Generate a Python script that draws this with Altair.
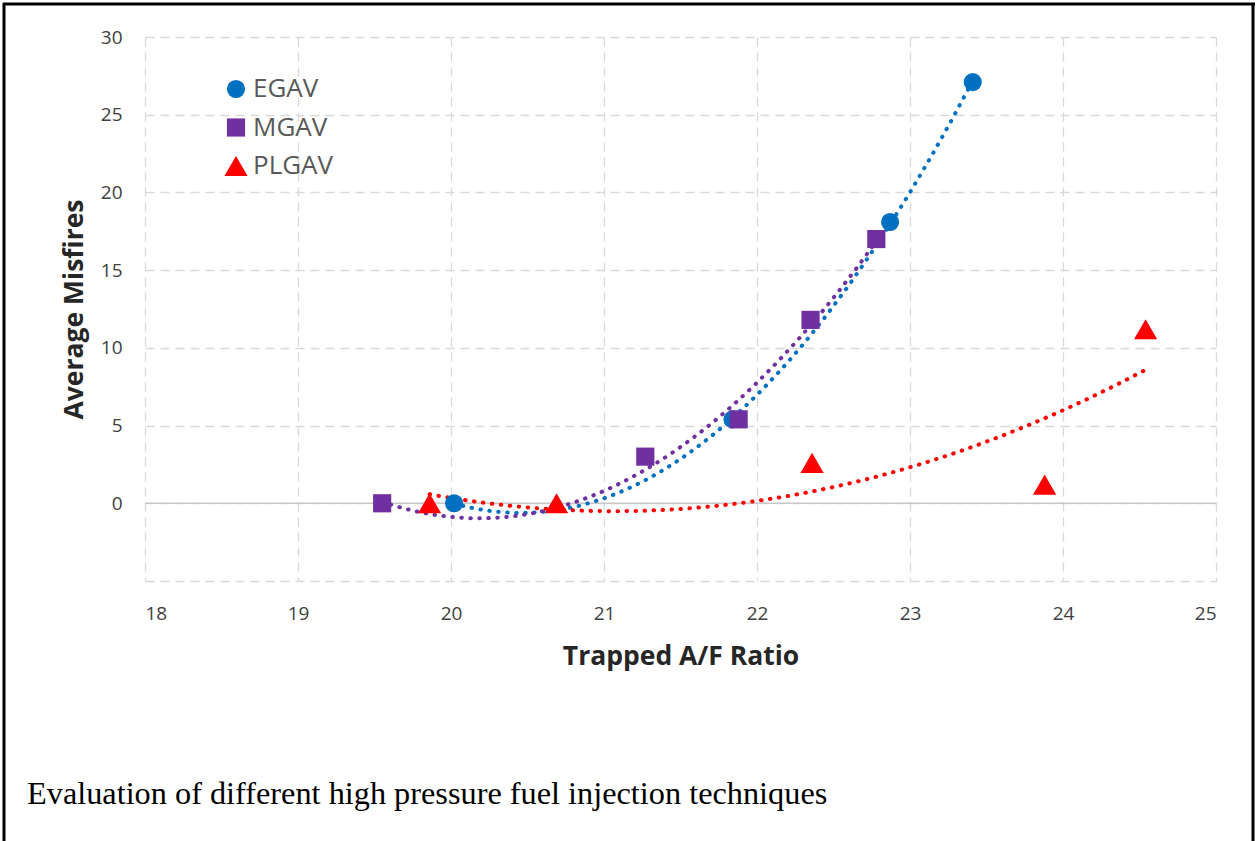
import altair as alt
import pandas as pd

# ---- data ----
egav_x = [20.02, 21.84, 22.87, 23.41]
egav_y = [0.0, 5.4, 18.1, 27.1]
mgav_x = [19.55, 21.27, 21.88, 22.35, 22.78]
mgav_y = [0.0, 3.0, 5.4, 11.8, 17.0]
plgav_x = [19.86, 20.69, 22.36, 23.88, 24.54]
plgav_y = [0.0, 0.0, 2.6, 1.2, 11.2]

series_names = ["EGAV", "MGAV", "PLGAV"]
series_colors = ["#0070C0", "#7030A0", "#FF0000"]
series_shapes = ["circle", "square", "triangle-up"]

y_ticks = [-5, 0, 5, 10, 15, 20, 25, 30]
x_ticks = [18, 19, 20, 21, 22, 23, 24, 25]
caption = ["Evaluation of different high pressure fuel injection techniques"]

rows = []
for name, xs, ys in [("EGAV", egav_x, egav_y), ("MGAV", mgav_x, mgav_y), ("PLGAV", plgav_x, plgav_y)]:
    for xv, yv in zip(xs, ys):
        rows.append({"series": name, "x": xv, "y": yv})
df = pd.DataFrame(rows)
legdf = pd.DataFrame({"series": series_names})

W, H = 1071, 544
PL, PT = 145, 37

xs = alt.Scale(domain=[18, 25], nice=False, zero=False)
ys = alt.Scale(domain=[-5, 30], nice=False, zero=False)
col = alt.Scale(domain=series_names, range=series_colors)
shp = alt.Scale(domain=series_names, range=series_shapes)
leg_y = alt.Scale(type="point", domain=series_names, range=[52, 129], padding=0)
size_rule = alt.condition(alt.datum.series == "PLGAV", alt.value(540), alt.value(330))

base = alt.Chart(df)

trend = base.transform_regression(
    "x", "y", method="poly", order=2, groupby=["series"]
).mark_line(strokeWidth=4, strokeDash=[0.5, 8.5], strokeCap="round").encode(
    x=alt.X("x:Q", scale=xs),
    y=alt.Y("y:Q", scale=ys, axis=None),
    stroke=alt.Stroke("series:N", scale=col, legend=None),
)

zero_line = alt.Chart(pd.DataFrame({"y": [0]})).mark_rule(color="#c8c8c8", strokeWidth=1.5).encode(
    y=alt.Y("y:Q", scale=ys, axis=None)
)

pts = base.mark_point(filled=True, opacity=1).encode(
    x=alt.X("x:Q", scale=xs,
            axis=alt.Axis(values=x_ticks, format="d", title="Trapped A/F Ratio", grid=True,
                          gridDash=[9, 6], gridColor="#d9d9d9", gridWidth=1.3,
                          domain=False, ticks=False, labelFontSize=19,
                          labelColor="#404040", labelFont="Open Sans", labelPadding=23,
                          titleFont="Open Sans", titleFontSize=26.5, titleFontWeight="bold",
                          titleColor="#262626", titlePadding=20)),
    y=alt.Y("y:Q", scale=ys,
            axis=alt.Axis(values=y_ticks, title="Average Misfires", grid=True,
                          gridDash=[9, 6], gridColor="#d9d9d9", gridWidth=1.3,
                          domain=False, ticks=False, labelFontSize=19,
                          labelColor="#404040", labelFont="Open Sans", labelPadding=23,
                          labelExpr="datum.value < 0 ? '' : datum.label",
                          titleFont="Open Sans", titleFontSize=26.5, titleFontWeight="bold",
                          titleColor="#262626", titlePadding=12)),
    color=alt.Color("series:N", scale=col, legend=None),
    shape=alt.Shape("series:N", scale=shp, legend=None),
    size=size_rule,
)

# legend drawn from the series names
leg_sym = alt.Chart(legdf).mark_point(filled=True, opacity=1).encode(
    x=alt.value(91),
    y=alt.Y("series:N", scale=leg_y, axis=None),
    color=alt.Color("series:N", scale=col, legend=None),
    shape=alt.Shape("series:N", scale=shp, legend=None),
    size=size_rule,
)
leg_txt = alt.Chart(legdf).mark_text(
    align="left", baseline="middle", font="Open Sans", fontSize=26, color="#595959"
).encode(
    x=alt.value(108),
    y=alt.Y("series:N", scale=leg_y, axis=None),
    text="series:N",
)

cap = alt.Chart(pd.DataFrame({"t": caption})).mark_text(
    align="left", baseline="alphabetic", font="Liberation Serif", fontSize=32.3, color="#000000"
).encode(text="t:N", x=alt.value(27 - PL), y=alt.value(804 - PT))

frame_df = pd.DataFrame({"a": [0]})
left_b = alt.Chart(frame_df).mark_rule(color="black", strokeWidth=3).encode(
    x=alt.value(4 - PL), y=alt.value(3 - PT), y2=alt.value(841 - PT))
top_b = alt.Chart(frame_df).mark_rule(color="black", strokeWidth=3).encode(
    x=alt.value(3 - PL), x2=alt.value(1255 - PL), y=alt.value(4 - PT))
right_b = alt.Chart(frame_df).mark_rule(color="black", strokeWidth=3).encode(
    x=alt.value(1253 - PL), y=alt.value(3 - PT), y2=alt.value(841 - PT))

chart = alt.layer(zero_line, trend, pts, leg_sym, leg_txt, cap, left_b, top_b, right_b).resolve_scale(
    y="independent"
).properties(
    width=W, height=H,
    autosize=alt.AutoSizeParams(type="none"),
    padding={"left": PL, "top": PT, "right": 1257 - PL - W, "bottom": 841 - PT - H},
    background="white",
).configure_view(stroke=None)

chart.save("out.html", embed_options={"renderer": "svg", "actions": False})
